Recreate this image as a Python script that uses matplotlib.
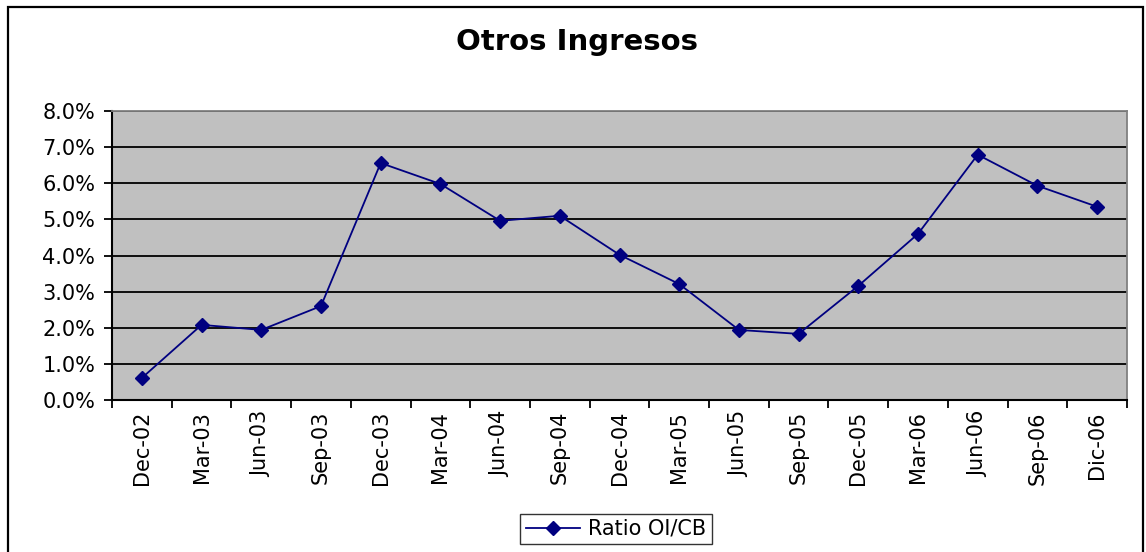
import numpy as np
import matplotlib.pyplot as plt
from matplotlib.patches import Rectangle
from matplotlib.ticker import PercentFormatter

# datos del grafico
periodos = ["Dec-02", "Mar-03", "Jun-03", "Sep-03", "Dec-03", "Mar-04", "Jun-04",
            "Sep-04", "Dec-04", "Mar-05", "Jun-05", "Sep-05", "Dec-05", "Mar-06",
            "Jun-06", "Sep-06", "Dic-06"]
ratio_oi_cb = [0.61, 2.08, 1.94, 2.60, 6.56, 5.98, 4.96, 5.10, 4.02, 3.21,
               1.94, 1.83, 3.16, 4.60, 6.79, 5.93, 5.35]
serie_nombre = "Ratio OI/CB"
titulo = "Otros Ingresos"

fig = plt.figure(figsize=(11.46, 5.52), dpi=100, facecolor="white")

# marco exterior del grafico
fig.patches.append(Rectangle((8 / 1146, -0.05), 1135 / 1146, 1.05 - 7 / 552,
                             transform=fig.transFigure, fill=False,
                             edgecolor="black", lw=1.6))

ax = fig.add_axes([112 / 1146, 1 - 400 / 552, 1015 / 1146, 289 / 552])
ax.set_facecolor("#c0c0c0")

x = np.arange(len(periodos))
ax.plot(x, ratio_oi_cb, color="#000080", lw=1.3, marker="D", markersize=7,
        markerfacecolor="#000080", markeredgecolor="#000080", label=serie_nombre)

ax.set_xlim(-0.5, len(periodos) - 0.5)
ax.set_ylim(0, 8)
ax.set_yticks(np.arange(0, 8.1, 1))
ax.yaxis.set_major_formatter(PercentFormatter(decimals=1))
ax.yaxis.grid(True, color="black", lw=1.3)
ax.set_axisbelow(True)

ax.set_xticks(x)
ax.set_xticklabels(periodos, rotation=90, fontsize=15)
ax.set_xticks(np.arange(-0.5, len(periodos), 1), minor=True)
ax.tick_params(axis="x", which="major", length=0, pad=8)
ax.tick_params(axis="x", which="minor", length=6, width=1.3, direction="out")
ax.tick_params(axis="y", labelsize=15, length=6, width=1.3, direction="out", pad=6)

for lado in ["top", "right"]:
    ax.spines[lado].set_color("#808080")
    ax.spines[lado].set_linewidth(1.3)
for lado in ["left", "bottom"]:
    ax.spines[lado].set_color("black")
    ax.spines[lado].set_linewidth(1.5)

fig.text(577 / 1146, 1 - 42 / 552, titulo, ha="center", va="center",
         fontsize=21, fontweight="bold")

fig.legend(loc="center", bbox_to_anchor=(616 / 1146, 1 - 529 / 552),
           fontsize=15, frameon=True, fancybox=False, edgecolor="black",
           handlelength=2.6, borderpad=0.25, handletextpad=0.4)

fig.savefig("out.png", dpi=100, facecolor="white")
